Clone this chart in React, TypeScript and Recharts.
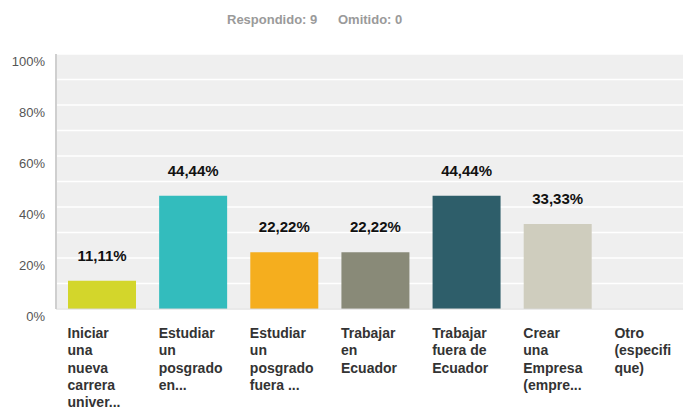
import { BarChart, Bar, XAxis, YAxis, CartesianGrid, Cell, LabelList } from "recharts";

const categories = [
  "Iniciar\nuna\nnueva\ncarrera\nuniver...",
  "Estudiar\nun\nposgrado\nen...",
  "Estudiar\nun\nposgrado\nfuera ...",
  "Trabajar\nen\nEcuador",
  "Trabajar\nfuera de\nEcuador",
  "Crear\nuna\nEmpresa\n(empre...",
  "Otro\n(especifi\nque)",
];
const percentages = [11.11, 44.44, 22.22, 22.22, 44.44, 33.33, 0];
const barColors = ["#d3d62b", "#33bcbd", "#f5ae1e", "#898a78", "#2e5e6a", "#cfcdbe", "#cccccc"];
const gridTicks = [0, 10, 20, 30, 40, 50, 60, 70, 80, 90, 100];
const labelTicks = [0, 20, 40, 60, 80, 100];

const chartData = categories.map((name, i) => ({ name, value: percentages[i] }));

const FONT = "'Liberation Sans', Arial, sans-serif";

function formatPct(v: number) {
  return v.toFixed(2).replace(".", ",") + "%";
}

function YTick({ y, payload }: any) {
  if (!labelTicks.includes(payload.value)) return null;
  return (
    <text x={45} y={y + 12} textAnchor="end" fontSize={13} fill="#555" fontFamily={FONT}>
      {payload.value}%
    </text>
  );
}

function XTick({ x, y, payload }: any) {
  const lines = String(payload.value).split("\n");
  return (
    <text x={x - 34} y={y + 21} textAnchor="start" fontSize={14} fontWeight="bold" fill="#333" fontFamily={FONT}>
      {lines.map((line, i) => (
        <tspan key={i} x={x - 34} dy={i === 0 ? 0 : 17.3}>
          {line}
        </tspan>
      ))}
    </text>
  );
}

function ValueLabel({ x, y, width, value }: any) {
  if (!value) return null;
  return (
    <text x={x + width / 2} y={y - 20} textAnchor="middle" fontSize={15} fontWeight="bold" fill="#111" fontFamily={FONT}>
      {formatPct(value)}
    </text>
  );
}

const titleStyle = {
  position: "absolute" as const,
  top: 12,
  fontFamily: FONT,
  fontSize: 13,
  fontWeight: "bold" as const,
  color: "#9a9a9a",
  whiteSpace: "pre" as const,
};

export default function App() {
  return (
    <div style={{ position: "fixed", top: 0, left: 0, width: 683, height: 411, overflow: "hidden", background: "#fff" }}>
      <div style={{ ...titleStyle, left: 227 }}>Respondido: 9</div>
      <div style={{ ...titleStyle, left: 338 }}>Omitido: 0</div>
      <div style={{ position: "absolute", top: 0, left: 0 }}>
        <BarChart width={694} height={411} data={chartData} margin={{ top: 54, right: 0, left: 0, bottom: 0 }} barSize={68}>
          <CartesianGrid vertical={false} fill="#efefef" stroke="#ffffff" strokeWidth={1.5} horizontalValues={gridTicks} />
          <XAxis dataKey="name" height={102} tickLine={false} axisLine={{ stroke: "#d6d6d6" }} tick={<XTick />} interval={0} />
          <YAxis
            width={56}
            domain={[0, 100]}
            ticks={gridTicks}
            tickLine={false}
            axisLine={{ stroke: "#cfcfcf", strokeWidth: 2 }}
            tick={<YTick />}
          />
          <Bar dataKey="value" isAnimationActive={false}>
            {chartData.map((_, i) => (
              <Cell key={i} fill={barColors[i]} />
            ))}
            <LabelList dataKey="value" content={<ValueLabel />} />
          </Bar>
        </BarChart>
      </div>
    </div>
  );
}
